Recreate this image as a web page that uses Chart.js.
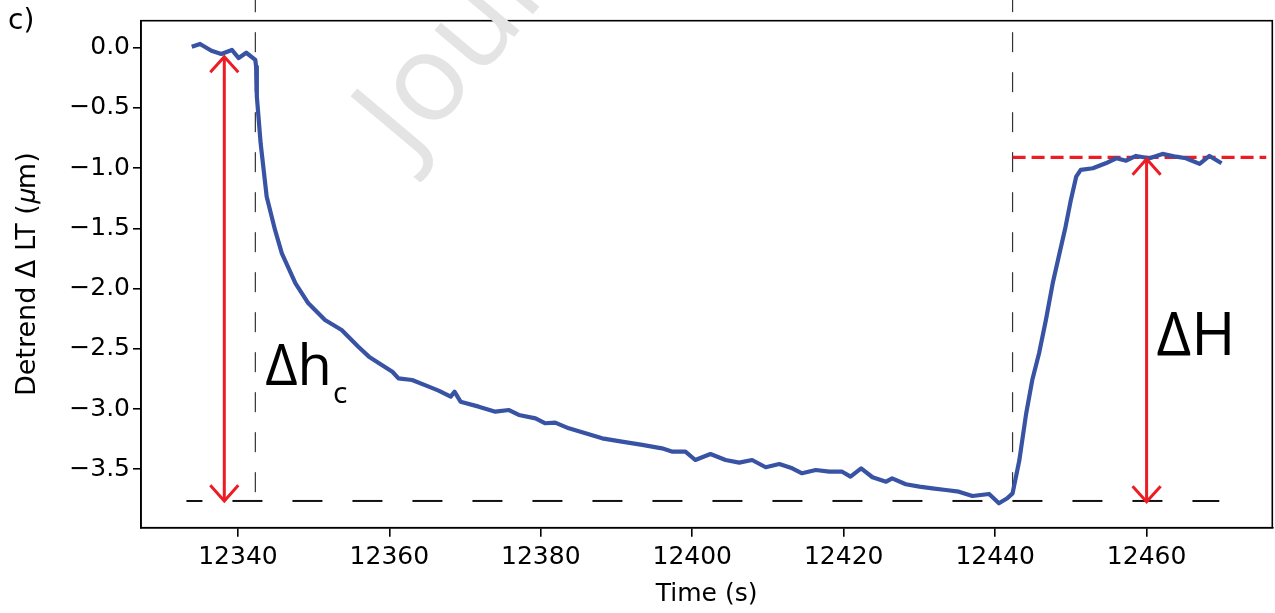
<!DOCTYPE html>
<html>
<head>
<meta charset="utf-8">
<script src="https://cdn.jsdelivr.net/npm/chart.js@4.4.1/dist/chart.umd.min.js"></script>
<style>
  html, body { margin: 0; padding: 0; background: #fff; }
  #wrap { width: 1275px; height: 613px; }
</style>
</head>
<body>
<div id="wrap"><canvas id="ltChart" width="1275" height="613"></canvas></div>
<script>
// time (s) and detrended LT (um)
const timeS = [
  12333.9, 12335.0, 12336.5, 12337.8, 12339.2, 12340.1, 12341.1, 12342.3, 12342.4, 12342.5,
  12343.0, 12343.8, 12344.9, 12345.8, 12347.6, 12349.3, 12351.5, 12353.7, 12355.9, 12357.3,
  12359.0, 12360.4, 12361.2, 12363.0, 12365.2, 12366.5, 12368.1, 12368.6, 12369.4, 12371.8,
  12374.0, 12375.8, 12377.1, 12379.3, 12380.6, 12381.9, 12383.7, 12385.9, 12388.1, 12390.7,
  12393.4, 12396.0, 12397.4, 12399.1, 12400.4, 12402.4, 12404.4, 12406.2, 12407.9, 12409.7,
  12411.5, 12413.2, 12414.5, 12416.3, 12418.1, 12419.8, 12420.9, 12422.3, 12423.8, 12425.6,
  12426.4, 12428.2, 12430.0, 12431.7, 12433.5, 12435.2, 12437.0, 12439.2, 12440.5, 12441.6,
  12442.3, 12443.2, 12444.1, 12444.9, 12445.8, 12446.7, 12447.6, 12448.5, 12449.3, 12450.0,
  12450.7, 12451.3, 12452.9, 12454.6, 12456.0, 12457.3, 12458.6, 12460.4, 12462.1, 12463.9,
  12465.2, 12467.0, 12468.3, 12469.9
];
const detrendLT = [
  0.008, 0.031, -0.025, -0.052, -0.019, -0.086, -0.042, -0.102, -0.158, -0.407,
  -0.794, -1.237, -1.513, -1.707, -1.956, -2.122, -2.261, -2.344, -2.482, -2.565,
  -2.634, -2.690, -2.745, -2.759, -2.814, -2.847, -2.897, -2.856, -2.939, -2.980,
  -3.022, -3.008, -3.049, -3.077, -3.118, -3.113, -3.160, -3.201, -3.243, -3.271,
  -3.298, -3.326, -3.354, -3.354, -3.423, -3.373, -3.423, -3.445, -3.423, -3.483,
  -3.456, -3.492, -3.533, -3.506, -3.520, -3.520, -3.561, -3.492, -3.566, -3.603,
  -3.575, -3.624, -3.644, -3.658, -3.672, -3.686, -3.722, -3.705, -3.782, -3.741,
  -3.700, -3.423, -3.035, -2.759, -2.537, -2.261, -1.956, -1.707, -1.486, -1.264,
  -1.071, -1.015, -1.001, -0.960, -0.918, -0.938, -0.899, -0.918, -0.882, -0.905,
  -0.918, -0.965, -0.899, -0.960
];

const xTicks = [12340, 12360, 12380, 12400, 12420, 12440, 12460];
const yTicks = [0.0, -0.5, -1.0, -1.5, -2.0, -2.5, -3.0, -3.5];
const xRange = [12327.2, 12476.6];
const yRange = [-3.985, 0.224];

// guide lines
const floorLevel = -3.763;
const floorSpan = [12333.2, 12469.6];
const plateauLevel = -0.91;
const plateauSpan = [12442.3, 12475.8];
const stepTimes = [12342.3, 12442.3];
const stepSpan = [-3.69, 0.4];

// double arrows for dh_c and dH
const dhArrowX = 12338.2;
const dhArrowY = [-0.075, -3.763];
const bigArrowX = 12460;
const bigArrowY = [-0.925, -3.77];

const RED = '#ed1c24';
const BLUE = '#3953a4';
const TICK_FONT = { family: 'DejaVu Sans', size: 25 };

function seg(xs, ys) {
  return xs.map((x, i) => ({ x: x, y: ys[i] }));
}

const datasets = [
  {
    data: seg(timeS, detrendLT),
    borderColor: BLUE,
    borderWidth: 4.2,
    borderJoinStyle: 'round',
    pointRadius: 0
  },
  {
    data: seg([dhArrowX, dhArrowX], dhArrowY),
    borderColor: RED, borderWidth: 3, pointRadius: 0, arrow: true
  },
  {
    data: seg([bigArrowX, bigArrowX], bigArrowY),
    borderColor: RED, borderWidth: 3, pointRadius: 0, arrow: true
  },
  {
    data: seg(plateauSpan, [plateauLevel, plateauLevel]),
    borderColor: RED, borderWidth: 3.2, borderDash: [13, 6], pointRadius: 0
  },
  {
    data: seg(floorSpan, [floorLevel, floorLevel]),
    borderColor: '#111', borderWidth: 2, borderDash: [30, 30], borderDashOffset: 14,
    pointRadius: 0
  }
];
stepTimes.forEach(t => {
  datasets.push({
    data: seg([t, t], stepSpan),
    borderColor: '#333', borderWidth: 1.2, borderDash: [20, 20], pointRadius: 0,
    clip: false
  });
});

// open V heads at both ends of the arrow segments
const arrowHeads = {
  id: 'arrowHeads',
  afterDatasetsDraw(chart) {
    const ctx = chart.ctx;
    chart.data.datasets.forEach((ds, i) => {
      if (!ds.arrow) return;
      const pts = chart.getDatasetMeta(i).data;
      const ends = [[pts[0], pts[1]], [pts[1], pts[0]]];
      ctx.save();
      ctx.strokeStyle = ds.borderColor;
      ctx.lineWidth = ds.borderWidth;
      ctx.lineCap = 'butt';
      ends.forEach(([tip, from]) => {
        const a = Math.atan2(tip.y - from.y, tip.x - from.x);
        const len = 21, spread = Math.PI / 4.3;
        ctx.beginPath();
        ctx.moveTo(tip.x - len * Math.cos(a - spread), tip.y - len * Math.sin(a - spread));
        ctx.lineTo(tip.x, tip.y);
        ctx.lineTo(tip.x - len * Math.cos(a + spread), tip.y - len * Math.sin(a + spread));
        ctx.stroke();
      });
      ctx.restore();
    });
  }
};

// frame, panel letter and the delta labels
const decorations = {
  id: 'decorations',
  afterDatasetsDraw(chart) {
    const { ctx, chartArea: a, scales: { x, y } } = chart;
    ctx.save();
    ctx.strokeStyle = '#000';
    ctx.lineWidth = 1.6;
    ctx.strokeRect(a.left, a.top, a.right - a.left, a.bottom - a.top);

    ctx.fillStyle = '#000';
    ctx.textBaseline = 'alphabetic';
    ctx.font = '28px "DejaVu Sans"';
    ctx.fillText('c)', 8, 29);

    ctx.font = '56px "Open Sans"';
    const hx = x.getPixelForValue(12343.6), hy = y.getPixelForValue(-2.80);
    ctx.fillText('Δh', hx, hy);
    const w = ctx.measureText('Δh').width;
    ctx.font = '30px "Open Sans"';
    ctx.fillText('c', hx + w + 1, hy + 18);

    ctx.font = '60px "Open Sans"';
    ctx.fillText('ΔH', x.getPixelForValue(12461.3), y.getPixelForValue(-2.551));
    ctx.restore();
  },
  afterDraw(chart) {
    const ctx = chart.ctx;
    ctx.save();
    ctx.translate(410, 161);
    ctx.rotate(-50 * Math.PI / 180);
    ctx.fillStyle = '#e4e4e4';
    ctx.font = '122px "Open Sans"';
    ctx.fillText('Journal Pre-proof', 0, 0);
    ctx.restore();
  }
};

new Chart(document.getElementById('ltChart'), {
  type: 'line',
  data: { datasets: datasets },
  options: {
    responsive: false,
    devicePixelRatio: 1,
    animation: false,
    layout: { padding: { top: 20.7, right: 2.7, left: 0, bottom: 0 } },
    plugins: { legend: { display: false }, tooltip: { enabled: false } },
    scales: {
      x: {
        type: 'linear',
        min: xRange[0],
        max: xRange[1],
        afterBuildTicks: s => { s.ticks = xTicks.map(v => ({ value: v })); },
        afterFit: s => { s.height = 85.3; },
        ticks: {
          font: TICK_FONT, color: '#000', padding: 6, maxRotation: 0,
          callback: v => String(v)
        },
        grid: { drawOnChartArea: false, drawTicks: true, tickLength: 9, lineWidth: 1.6, color: '#000' },
        border: { display: true, color: '#000', width: 1.6 },
        title: {
          display: true, text: 'Time (s)', color: '#000',
          font: TICK_FONT, padding: { top: 0, bottom: 4 }
        }
      },
      y: {
        type: 'linear',
        min: yRange[0],
        max: yRange[1],
        afterBuildTicks: s => { s.ticks = yTicks.map(v => ({ value: v })); },
        afterFit: s => { s.width = 141; },
        ticks: {
          font: TICK_FONT, color: '#000', padding: 3,
          callback: v => (v < 0 ? '\u2212' : '') + Math.abs(v).toFixed(1)
        },
        grid: { drawOnChartArea: false, drawTicks: true, tickLength: 8, lineWidth: 1.6, color: '#000' },
        border: { display: true, color: '#000', width: 1.6 },
        title: {
          display: true, text: 'Detrend Δ LT (𝜇m)', color: '#000',
          font: { family: 'DejaVu Sans', size: 27 }, padding: { top: 12, bottom: 0 }
        }
      }
    }
  },
  plugins: [arrowHeads, decorations]
});
</script>
</body>
</html>
